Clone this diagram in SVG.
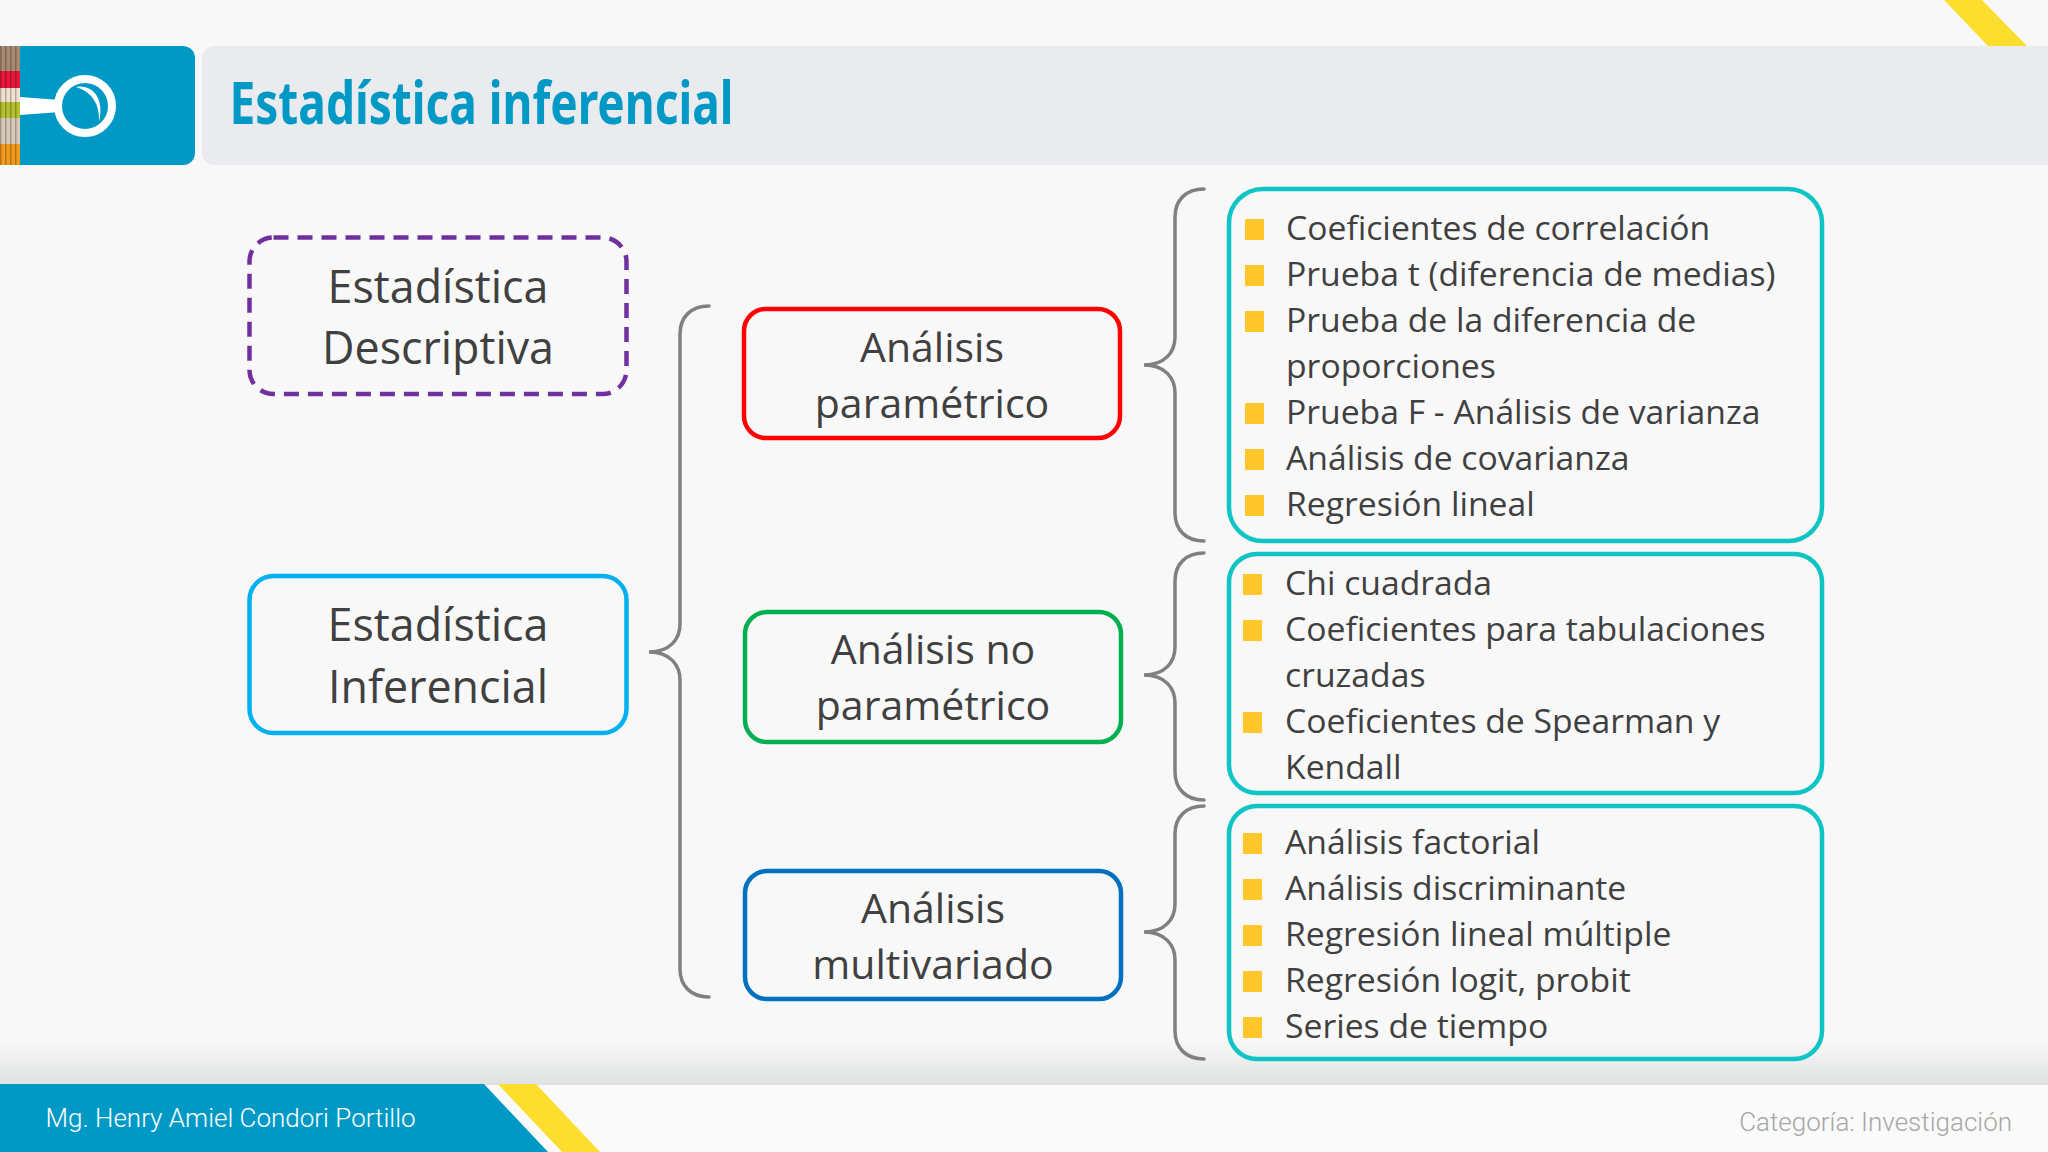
<svg xmlns="http://www.w3.org/2000/svg" width="2048" height="1152" viewBox="0 0 2048 1152">
<style>
.n{fill:none;stroke-width:4.500}
.b{fill:none;stroke:#808080;stroke-width:3.5;stroke-linecap:round}
.t{font-family:"Open Sans","Noto Sans",sans-serif;fill:#404040;text-anchor:middle}
.a{font-size:44.800px}
.c{font-size:41px}
.l{font-family:"Open Sans","Noto Sans",sans-serif;fill:#404040;font-size:33.700px}
.q{fill:#FFC72C}
.k{stroke:#0FC4C4;fill:none;stroke-width:4.500}
.f{font-family:Roboto,sans-serif;font-size:26px;font-weight:300}
</style>
<defs>
<linearGradient id="sh" x1="0" y1="0" x2="0" y2="1"><stop offset="0" stop-color="#f8f8f8"/><stop offset="1" stop-color="#dfe1e1"/></linearGradient>
<pattern id="st" width="5" height="10" patternUnits="userSpaceOnUse"><rect width="1.500" height="10" fill="#000" fill-opacity="0.25"/></pattern>
</defs>
<rect width="2048" height="1152" fill="#f8f8f8"/>
<g id="header">
<polygon points="1944,0 1982,0 2027,46 1988,46" fill="#FDDD2E"/>
<rect x="202" y="46" width="1860" height="119" rx="12" fill="#E9EBEE"/>
<rect x="0" y="46" width="195" height="119" rx="12" fill="#0099C6"/>
<rect x="0" y="46" width="20" height="25" fill="#A88A70"/>
<rect x="0" y="71" width="20" height="17" fill="#E8173A"/>
<rect x="0" y="88" width="20" height="14" fill="#F0E0D0"/>
<rect x="0" y="102" width="20" height="16" fill="#B5C030"/>
<rect x="0" y="118" width="20" height="26" fill="#D8C8B8"/>
<rect x="0" y="144" width="20" height="21" fill="#F29A1E"/>
<rect x="0" y="46" width="20" height="119" fill="url(#st)"/>
<polygon points="20,97 60,100 60,112 20,115" fill="#fff"/>
<circle cx="85" cy="106" r="27" fill="none" stroke="#fff" stroke-width="8"/>
<path d="M76,87 C92,84 105,98 99,122 C100,104 92,92 76,87 Z" fill="#fff"/>
<text x="229.500" y="124" font-family="'Noto Sans',sans-serif" font-weight="700" font-size="60" fill="#0099C6" textLength="504" lengthAdjust="spacingAndGlyphs">Estadística inferencial</text>
</g>
<g id="footer">
<rect x="0" y="1040" width="2048" height="45" fill="url(#sh)"/>
<rect x="0" y="1085" width="2048" height="67" fill="#fafafa"/>
<polygon points="498,1084 536,1084 600,1152 562,1152" fill="#FDDD2E"/>
<polygon points="0,1084 484,1084 548,1152 0,1152" fill="#0099C6"/>
<text class="f" x="45.500" y="1127" fill="#fff">Mg. Henry Amiel Condori Portillo</text>
<text class="f" x="2012" y="1131" fill="#a6a6a6" text-anchor="end">Categoría: Investigación</text>
</g>
<g id="connectors">
<path class="b" d="M709,306 C691,306 680,317 680,334 V624 C680,639 670,652 649,652 C670,652 680,665 680,680 V969 C680,986 691,997 709,997"/>
<path class="b" d="M1204,189 C1186,189 1175,200 1175,217 V337 C1175,352 1165,365 1144,365 C1165,365 1175,378 1175,393 V513 C1175,530 1186,541 1204,541"/>
<path class="b" d="M1204,553 C1186,553 1175,564 1175,581 V647 C1175,662 1165,675 1144,675 C1165,675 1175,688 1175,703 V772 C1175,789 1186,800 1204,800"/>
<path class="b" d="M1204,806 C1186,806 1175,817 1175,834 V904 C1175,919 1165,932 1144,932 C1165,932 1175,945 1175,960 V1031 C1175,1048 1186,1059 1204,1059"/>
</g>
<g id="descriptiva">
<rect class="n" x="249.500" y="237.500" width="377" height="156.500" rx="24" stroke="#7030A0" stroke-dasharray="15 9"/>
<text class="t a" x="438" y="303">Estadística</text><text class="t a" x="438" y="364">Descriptiva</text>
</g>
<g id="inferencial">
<rect class="n" x="249.500" y="576" width="377" height="157" rx="24" stroke="#00B0F0"/>
<text class="t a" x="438" y="641">Estadística</text><text class="t a" x="438" y="703">Inferencial</text>
</g>
<g id="parametrico">
<rect class="n" x="744" y="309" width="376" height="129" rx="22" stroke="#FF0000"/>
<text class="t c" x="932" y="362">Análisis</text><text class="t c" x="932" y="418">paramétrico</text>
</g>
<g id="noparametrico">
<rect class="n" x="745" y="612" width="376" height="130" rx="22" stroke="#00B050"/>
<text class="t c" x="933" y="664">Análisis no</text><text class="t c" x="933" y="720">paramétrico</text>
</g>
<g id="multivariado">
<rect class="n" x="745" y="871" width="376" height="128" rx="22" stroke="#0070C0"/>
<text class="t c" x="933" y="923">Análisis</text><text class="t c" x="933" y="979">multivariado</text>
</g>
<g id="lista1">
<rect class="k" x="1229" y="189" width="593" height="352" rx="34"/>
<rect class="q" x="1245" y="219" width="19" height="21"/><rect class="q" x="1245" y="265" width="19" height="21"/><rect class="q" x="1245" y="311" width="19" height="21"/><rect class="q" x="1245" y="403" width="19" height="21"/><rect class="q" x="1245" y="449" width="19" height="21"/><rect class="q" x="1245" y="495" width="19" height="21"/>
<text class="l" x="1286" y="240">Coeficientes de correlación</text>
<text class="l" x="1286" y="286">Prueba t (diferencia de medias)</text>
<text class="l" x="1286" y="332">Prueba de la diferencia de</text>
<text class="l" x="1286" y="378">proporciones</text>
<text class="l" x="1286" y="424">Prueba F - Análisis de varianza</text>
<text class="l" x="1286" y="470">Análisis de covarianza</text>
<text class="l" x="1286" y="516">Regresión lineal</text>
</g>
<g id="lista2">
<rect class="k" x="1229" y="554" width="593" height="239" rx="28"/>
<rect class="q" x="1243" y="574" width="19" height="21"/><rect class="q" x="1243" y="620" width="19" height="21"/><rect class="q" x="1243" y="712" width="19" height="21"/>
<text class="l" x="1285" y="595">Chi cuadrada</text>
<text class="l" x="1285" y="641">Coeficientes para tabulaciones</text>
<text class="l" x="1285" y="687">cruzadas</text>
<text class="l" x="1285" y="733">Coeficientes de Spearman y</text>
<text class="l" x="1285" y="779">Kendall</text>
</g>
<g id="lista3">
<rect class="k" x="1229" y="806" width="593" height="253" rx="28"/>
<rect class="q" x="1243" y="833" width="19" height="21"/><rect class="q" x="1243" y="879" width="19" height="21"/><rect class="q" x="1243" y="925" width="19" height="21"/><rect class="q" x="1243" y="971" width="19" height="21"/><rect class="q" x="1243" y="1017" width="19" height="21"/>
<text class="l" x="1285" y="854">Análisis factorial</text>
<text class="l" x="1285" y="900">Análisis discriminante</text>
<text class="l" x="1285" y="946">Regresión lineal múltiple</text>
<text class="l" x="1285" y="992">Regresión logit, probit</text>
<text class="l" x="1285" y="1038">Series de tiempo</text>
</g>
</svg>
